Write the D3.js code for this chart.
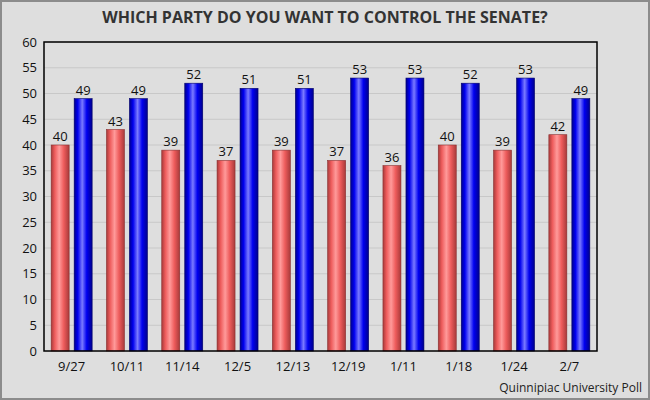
<!DOCTYPE html>
<html>
<head>
<meta charset="utf-8">
<script src="https://cdn.jsdelivr.net/npm/d3@7"></script>
<style>
  body { margin: 0; background: #fff; }
  text { font-family: "Open Sans", "DejaVu Sans", sans-serif; }
</style>
</head>
<body>
<div id="chart"></div>
<script>
const dates = ["9/27", "10/11", "11/14", "12/5", "12/13", "12/19", "1/11", "1/18", "1/24", "2/7"];
const republican = [40, 43, 39, 37, 39, 37, 36, 40, 39, 42];
const democrat = [49, 49, 52, 51, 51, 53, 53, 52, 53, 49];
const yTicks = [0, 5, 10, 15, 20, 25, 30, 35, 40, 45, 50, 55, 60];

const W = 650, H = 400;
const margin = {top: 42, right: 53, bottom: 49, left: 44};
const width = W - margin.left - margin.right,
      height = H - margin.top - margin.bottom;

const svg = d3.select("#chart").append("svg")
    .attr("width", W)
    .attr("height", H);

// gradients for the "cylinder" look
const defs = svg.append("defs");
function makeGrad(id, edge, base, light) {
  const g = defs.append("linearGradient").attr("id", id)
      .attr("x1", "0%").attr("x2", "100%").attr("y1", "0%").attr("y2", "0%");
  g.append("stop").attr("offset", "0%").attr("stop-color", edge);
  g.append("stop").attr("offset", "20%").attr("stop-color", base);
  g.append("stop").attr("offset", "45%").attr("stop-color", light);
  g.append("stop").attr("offset", "70%").attr("stop-color", base);
  g.append("stop").attr("offset", "100%").attr("stop-color", edge);
}
makeGrad("redGrad", "#a83a3a", "#ee5c5c", "#ff9a9a");
makeGrad("blueGrad", "#00008c", "#0000f0", "#7a7aff");

// background + outer border
svg.append("rect")
    .attr("x", 1).attr("y", 1)
    .attr("width", W - 2).attr("height", H - 2)
    .attr("fill", "#dedede")
    .attr("stroke", "#8c8c8c")
    .attr("stroke-width", 2);

svg.append("text")
    .attr("x", W / 2)
    .attr("y", 23)
    .attr("text-anchor", "middle")
    .style("font-size", "16px")
    .style("font-weight", "bold")
    .attr("fill", "#333")
    .text("WHICH PARTY DO YOU WANT TO CONTROL THE SENATE?");

const g = svg.append("g")
    .attr("transform", `translate(${margin.left},${margin.top})`);

const x = d3.scaleBand()
    .domain(dates)
    .range([0, width]);

const y = d3.scaleLinear()
    .domain([0, 60])
    .range([height, 0]);

// gridlines
g.append("g")
  .selectAll("line")
  .data(yTicks.filter(d => d > 0))
  .join("line")
    .attr("x1", 0).attr("x2", width)
    .attr("y1", d => y(d)).attr("y2", d => y(d))
    .attr("stroke", "#c8c8c8")
    .attr("stroke-width", 1);

// y axis labels
g.append("g")
  .selectAll("text")
  .data(yTicks)
  .join("text")
    .attr("x", -7)
    .attr("y", d => y(d))
    .attr("dy", "0.35em")
    .attr("text-anchor", "end")
    .style("font-size", "13px")
    .attr("fill", "#111")
    .text(d => d);

const barW = 18, gap = 5;
const groups = dates.map((d, i) => ({date: d, rep: republican[i], dem: democrat[i]}));

const grp = g.append("g")
  .selectAll("g")
  .data(groups)
  .join("g")
    .attr("transform", d => `translate(${x(d.date) + x.bandwidth() / 2},0)`);

// red bars
grp.append("rect")
    .attr("x", -barW - gap / 2)
    .attr("y", d => y(d.rep))
    .attr("width", barW)
    .attr("height", d => y(0) - y(d.rep))
    .attr("fill", "url(#redGrad)")
    .attr("stroke", "#8a3030")
    .attr("stroke-width", 0.6);

// blue bars
grp.append("rect")
    .attr("x", gap / 2)
    .attr("y", d => y(d.dem))
    .attr("width", barW)
    .attr("height", d => y(0) - y(d.dem))
    .attr("fill", "url(#blueGrad)")
    .attr("stroke", "#00006a")
    .attr("stroke-width", 0.6);

// value labels
grp.append("text")
    .attr("x", -barW / 2 - gap / 2)
    .attr("y", d => y(d.rep) - 4)
    .attr("text-anchor", "middle")
    .style("font-size", "13px")
    .attr("fill", "#111")
    .text(d => d.rep);

grp.append("text")
    .attr("x", barW / 2 + gap / 2)
    .attr("y", d => y(d.dem) - 4)
    .attr("text-anchor", "middle")
    .style("font-size", "13px")
    .attr("fill", "#111")
    .text(d => d.dem);

// x labels
g.append("g")
  .selectAll("text")
  .data(dates)
  .join("text")
    .attr("x", d => x(d) + x.bandwidth() / 2)
    .attr("y", height + 20)
    .attr("text-anchor", "middle")
    .style("font-size", "13px")
    .attr("fill", "#111")
    .text(d => d);

// plot frame
g.append("rect")
    .attr("width", width)
    .attr("height", height)
    .attr("fill", "none")
    .attr("stroke", "#000")
    .attr("stroke-width", 1.5);

svg.append("text")
    .attr("x", W - 8)
    .attr("y", H - 8)
    .attr("text-anchor", "end")
    .style("font-size", "12px")
    .attr("fill", "#222")
    .text("Quinnipiac University Poll");
</script>
</body>
</html>
